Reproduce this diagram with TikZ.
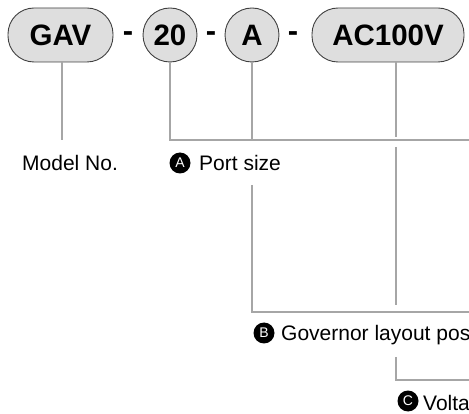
\documentclass[tikz,border=0pt]{standalone}
\usepackage{fontspec}
\setmainfont{Liberation Sans}
\begin{document}
\begin{tikzpicture}[x=1pt,y=-1pt,
  code/.style={draw=black!75, fill=black!13, line width=0.9pt, inner sep=0pt,
    font=\bfseries\fontsize{29.5}{29.5}\selectfont},
  pill/.style={rectangle, rounded corners=26pt, minimum height=54pt},
  ring/.style={circle, minimum size=54pt},
  hyph/.style={inner sep=0pt, font=\bfseries\fontsize{31}{31}\selectfont},
  conn/.style={draw=black!35, line width=2pt},
  badge/.style={circle, fill=black, text=white, minimum size=21pt, inner sep=0pt,
    font=\fontsize{14}{14}\selectfont},
  lbl/.style={inner sep=0pt, anchor=base west, font=\fontsize{21}{24}\selectfont}]
\clip (0,0) rectangle (469,414);
\useasboundingbox (0,0) rectangle (469,414);

% code boxes
\node[code,pill,minimum width=105pt] (gav) at (60.5,35) {GAV};
\node[code,ring] (n20) at (170,35) {20};
\node[code,ring] (na) at (252,35) {A};
\node[code,pill,minimum width=152pt] (ac) at (388,35) {AC100V};
\node[hyph] (h1) at (128,37) {-};
\node[hyph] (h2) at (211,37) {-};
\node[hyph] (h3) at (293,37) {-};

% coordinates
\coordinate (gavend) at (62,140);
\coordinate (r1) at (480,140);
\coordinate (aend) at (252,140);
\coordinate (acend) at (396,137);
\coordinate (ac2a) at (396,147);
\coordinate (ac2b) at (396,305);
\coordinate (bt) at (252,185);
\coordinate (br) at (480,312);
\coordinate (ct) at (396,357);
\coordinate (cr) at (480,380);

% connectors
\draw[conn] (gavend |- gav.south) -- (gavend);
\draw[conn] (n20.south) |- (r1);
\draw[conn] (na.south) -- (aend);
\draw[conn] (acend |- ac.south) -- (acend);
\draw[conn] (ac2a) -- (ac2b);
\draw[conn] (bt) |- (br);
\draw[conn] (ct) |- (cr);

% labels
\node[lbl] (model) at (22,170.3) {Model No.};
\node[badge] (ba) at (180,163) {A};
\node[lbl] (port) at (199,171) {Port size};
\node[badge] (bb) at (264,333) {B};
\node[lbl] (gov) at (281,341) {Governor layout pos};
\node[badge] (bc) at (408,401) {C};
\node[lbl] (volt) at (423,410) {Volta};
\end{tikzpicture}
\end{document}
